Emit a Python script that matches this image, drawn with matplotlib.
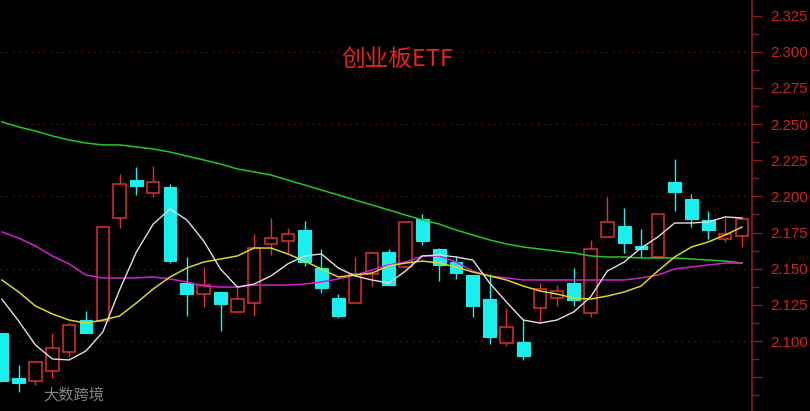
import numpy as np
import matplotlib.pyplot as plt
from matplotlib.ticker import MultipleLocator, FuncFormatter

# 日K数据（开、收、高、低）
opens = [2.1055, 2.0744, 2.0723, 2.0793, 2.0924, 2.1145, 2.1138, 2.1851, 2.2113, 2.2024,
         2.2065, 2.1401, 2.1325, 2.1339, 2.1201, 2.1263, 2.1671, 2.1692, 2.1768, 2.1505,
         2.1297, 2.1263, 2.1463, 2.1615, 2.1512, 2.1844, 2.1636, 2.1546, 2.1456, 2.1290,
         2.0986, 2.0993, 2.1228, 2.1297, 2.1401, 2.1194, 2.1719, 2.1795, 2.1657, 2.1581,
         2.2100, 2.1982, 2.1837, 2.1705, 2.1726]
closes = [2.0723, 2.0710, 2.0855, 2.0952, 2.1111, 2.1055, 2.1788, 2.2086, 2.2072, 2.2100,
          2.1553, 2.1325, 2.1387, 2.1256, 2.1290, 2.1643, 2.1712, 2.1740, 2.1546, 2.1367,
          2.1173, 2.1463, 2.1609, 2.1387, 2.1823, 2.1692, 2.1526, 2.1470, 2.1242, 2.1028,
          2.1097, 2.0896, 2.1360, 2.1346, 2.1284, 2.1636, 2.1823, 2.1678, 2.1636, 2.1878,
          2.2030, 2.1844, 2.1768, 2.1740, 2.1844]
highs = [2.1055, 2.0834, 2.0855, 2.1055, 2.1124, 2.1207, 2.1795, 2.2155, 2.2203, 2.2210,
         2.2086, 2.1581, 2.1512, 2.1339, 2.1387, 2.1740, 2.1851, 2.1781, 2.1830, 2.1636,
         2.1325, 2.1581, 2.1622, 2.1636, 2.1823, 2.1878, 2.1643, 2.1588, 2.1456, 2.1463,
         2.1228, 2.1152, 2.1401, 2.1387, 2.1505, 2.1698, 2.1996, 2.1920, 2.1775, 2.1878,
         2.2259, 2.2017, 2.1899, 2.1858, 2.1858]
lows = [2.0723, 2.0647, 2.0696, 2.0744, 2.0889, 2.1055, 2.1138, 2.1781, 2.2010, 2.1996,
        2.1539, 2.1173, 2.1235, 2.1069, 2.1201, 2.1173, 2.1595, 2.1609, 2.1519, 2.1332,
        2.1159, 2.1263, 2.1380, 2.1387, 2.1512, 2.1664, 2.1415, 2.1429, 2.1166, 2.0979,
        2.0965, 2.0869, 2.1124, 2.1242, 2.1242, 2.1166, 2.1719, 2.1609, 2.1581, 2.1581,
        2.1899, 2.1788, 2.1705, 2.1685, 2.1650]

# 均线
ma5 = [2.1290, 2.1138, 2.0972, 2.0876, 2.0869, 2.0931, 2.1062, 2.1353, 2.1616, 2.1809,
       2.1913, 2.1837, 2.1692, 2.1498, 2.1373, 2.1394, 2.1450, 2.1533, 2.1588, 2.1602,
       2.1505, 2.1450, 2.1422, 2.1401, 2.1484, 2.1588, 2.1595, 2.1581, 2.1560, 2.1401,
       2.1270, 2.1145, 2.1124, 2.1145, 2.1201, 2.1304, 2.1484, 2.1546, 2.1643, 2.1719,
       2.1816, 2.1816, 2.1823, 2.1858, 2.1851]
ma10 = [2.1422, 2.1339, 2.1242, 2.1187, 2.1145, 2.1124, 2.1145, 2.1173, 2.1263, 2.1360,
        2.1443, 2.1505, 2.1546, 2.1567, 2.1588, 2.1643, 2.1643, 2.1602, 2.1553, 2.1498,
        2.1443, 2.1456, 2.1470, 2.1519, 2.1539, 2.1553, 2.1539, 2.1512, 2.1477, 2.1450,
        2.1422, 2.1380, 2.1346, 2.1325, 2.1297, 2.1290, 2.1311, 2.1339, 2.1380, 2.1484,
        2.1581, 2.1650, 2.1685, 2.1733, 2.1788]
ma20 = [2.1754, 2.1712, 2.1657, 2.1588, 2.1533, 2.1456, 2.1436, 2.1436, 2.1436, 2.1443,
        2.1429, 2.1408, 2.1380, 2.1373, 2.1373, 2.1387, 2.1387, 2.1387, 2.1394, 2.1408,
        2.1429, 2.1456, 2.1491, 2.1526, 2.1546, 2.1588, 2.1588, 2.1546, 2.1484, 2.1450,
        2.1436, 2.1422, 2.1422, 2.1422, 2.1422, 2.1422, 2.1422, 2.1422, 2.1436, 2.1456,
        2.1498, 2.1512, 2.1526, 2.1539, 2.1539]
ma60 = [2.2515, 2.2480, 2.2452, 2.2418, 2.2390, 2.2369, 2.2356, 2.2356, 2.2342, 2.2328,
        2.2307, 2.2279, 2.2252, 2.2224, 2.2190, 2.2169, 2.2148, 2.2113, 2.2079, 2.2044,
        2.2010, 2.1975, 2.1941, 2.1906, 2.1871, 2.1837, 2.1809, 2.1768, 2.1733, 2.1699,
        2.1671, 2.1650, 2.1636, 2.1622, 2.1609, 2.1588, 2.1581, 2.1581, 2.1574, 2.1574,
        2.1574, 2.1567, 2.1560, 2.1553, 2.1539]

UP = '#e03030'
DOWN = '#18f0f0'
AXIS_RED = '#8a1a1a'

plt.rcParams['font.family'] = ['Noto Sans CJK SC', 'DejaVu Sans']

fig = plt.figure(figsize=(8.1, 4.11), dpi=100, facecolor='black')
ax = fig.add_axes([0, 0, 752 / 810, 1], facecolor='black')

o = np.array(opens)
c = np.array(closes)
h = np.array(highs)
l = np.array(lows)
x = np.arange(len(o))
up = c >= o

# 影线
ax.vlines(x[up], l[up], h[up], color=UP, lw=1.0, zorder=2)
ax.vlines(x[~up], l[~up], h[~up], color=DOWN, lw=1.0, zorder=2)

# 实体：阳线空心，阴线实心
bottoms = np.minimum(o, c)
heights = np.abs(c - o)
ax.bar(x[up], heights[up], bottom=bottoms[up], width=0.74,
       facecolor='black', edgecolor=UP, linewidth=1.1, zorder=3)
ax.bar(x[~up], heights[~up], bottom=bottoms[~up], width=0.76,
       facecolor=DOWN, edgecolor=DOWN, linewidth=0.8, zorder=3)

# 均线
ax.plot(x, ma60, color='#22c822', lw=1.1, zorder=4)
ax.plot(x, ma20, color='#d020d0', lw=1.1, zorder=4)
ax.plot(x, ma10, color='#d8d820', lw=1.1, zorder=5)
ax.plot(x, ma5, color='#e0e0e0', lw=1.0, zorder=6)

# 网格虚线
for g in np.arange(2.10, 2.31, 0.05):
    ax.axhline(g, color='#7a1515', lw=0.9, ls=(0, (1, 4)), zorder=1)

ax.set_xlim(-0.11, 44.6)
ax.set_ylim(2.0516, 2.3358)

for side in ['top', 'left', 'bottom']:
    ax.spines[side].set_visible(False)
ax.spines['right'].set_color(AXIS_RED)
ax.spines['right'].set_linewidth(1.2)

ax.set_xticks([])
ax.yaxis.tick_right()
ax.yaxis.set_major_locator(MultipleLocator(0.025))
ax.yaxis.set_minor_locator(MultipleLocator(0.0125))
ax.yaxis.set_major_formatter(FuncFormatter(lambda v, pos: f'{v:.3f}' if v > 2.09 else ''))
ax.tick_params(axis='y', which='major', direction='out', length=7, width=1,
               color=AXIS_RED, labelcolor='#d42020', labelsize=10.8, pad=6)
ax.tick_params(axis='y', which='minor', direction='out', length=5, width=1,
               color=AXIS_RED)
for lab in ax.get_yticklabels():
    lab.set_family(['Liberation Sans', 'DejaVu Sans'])

ax.text(0.528, 0.855, '创业板ETF', transform=ax.transAxes, ha='center', va='center',
        color='#e82222', fontsize=17,
        bbox=dict(facecolor='black', edgecolor='none', pad=1), zorder=7)

ax.text(0.057, 0.04, '大数跨境', transform=ax.transAxes, ha='left', va='center',
        color='#9a9a9a', fontsize=11, alpha=0.85, zorder=8)

fig.savefig('out.png', dpi=100, facecolor='black')
